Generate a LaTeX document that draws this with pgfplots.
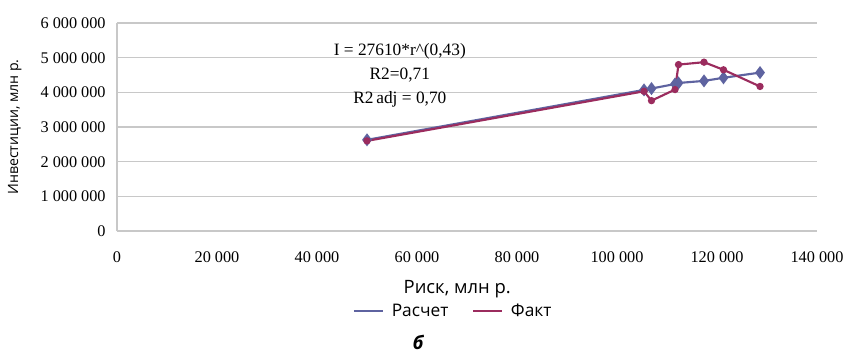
\documentclass[border=0pt]{standalone}
\usepackage{fontspec}
\setmainfont{Liberation Serif}
\newfontfamily\sans{Open Sans}
\usepackage{pgfplots}
\pgfplotsset{compat=1.18}
\definecolor{rasch}{HTML}{5E63A0}
\definecolor{fakt}{HTML}{9B2C5E}
\definecolor{gridc}{HTML}{C8C8C8}
\begin{document}
\begin{tikzpicture}
\path[use as bounding box] (-87.75pt,-92.25pt) rectangle (548.25pt,173.25pt);
\begin{axis}[
  at={(0,0)}, anchor=south west,
  scale only axis, width=525pt, height=156pt,
  xmin=0, xmax=140000, ymin=0, ymax=6000000,
  xtick={0,20000,...,140000},
  ytick={0,1000000,...,6000000},
  scaled x ticks=false, scaled y ticks=false,
  /pgf/number format/fixed,
  /pgf/number format/1000 sep={\ },
  /pgf/number format/assume math mode=true,
  tick label style={font=\fontsize{12.2}{14}\selectfont},
  major tick length=0pt,
  ymajorgrids, grid style={gridc, line width=0.8pt},
  axis x line*=bottom, axis y line*=left,
  x axis line style={gridc, line width=0.8pt, -},
  y axis line style={gridc, line width=0.8pt, -},
  xticklabel style={yshift=-12pt},
  yticklabel style={xshift=-5pt},
  xlabel={Риск, млн р.},
  ylabel={Инвестиции, млн р.},
  xlabel style={font=\sans\fontsize{13.8}{15}\selectfont, at={(axis description cs:0.486,-0.28)}, anchor=center},
  ylabel style={font=\sans\fontsize{10.6}{12}\selectfont, at={(axis description cs:-0.146,0.5)}, anchor=center},
  legend style={draw=none, fill=none, at={(axis description cs:0.481,-0.385)}, anchor=center,
    legend columns=2, font=\sans\fontsize{13}{15}\selectfont,
    /tikz/every odd column/.append style={column sep=4pt},
    /tikz/every even column/.append style={column sep=16pt}},
  legend image code/.code={\draw[#1, mark=none, line width=0.9pt] (0pt,0pt) -- (22pt,0pt);},
  clip=false,
]
\addplot[rasch, line width=1.6pt, mark=diamond*, mark size=3.6pt, mark options={fill=rasch, draw=rasch}] coordinates {
 (50000,2630000) (105400,4070000) (106900,4110000) (111600,4240000) (112300,4270000)
 (117400,4330000) (121300,4420000) (128600,4570000)
};
\addlegendentry{Расчет}
\addplot[fakt, line width=1.6pt, mark=*, mark size=1.9pt, mark options={fill=fakt, draw=fakt}] coordinates {
 (50000,2600000) (105400,4030000) (106900,3760000) (111600,4080000) (112300,4800000)
 (117400,4870000) (121300,4650000) (128600,4170000)
};
\addlegendentry{Факт}
\node[align=center, font=\fontsize{13}{18}\selectfont, anchor=center] at (axis description cs:0.404,0.75)
  {I = 27610*r\^{}(0,43)\\R2=0,71\\R2\,adj = 0,70};
\node[font=\sans\bfseries\itshape\fontsize{14}{16}\selectfont, anchor=center] at (axis description cs:0.43,-0.535) {б};
\end{axis}
\end{tikzpicture}
\end{document}
